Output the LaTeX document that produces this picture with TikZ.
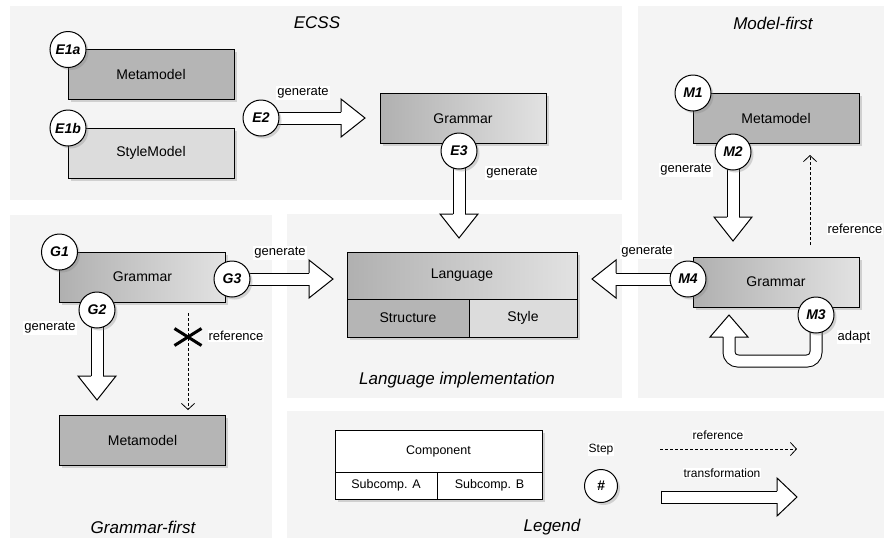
\documentclass[tikz,border=0pt]{standalone}
\usepackage{fontspec}
\setmainfont{Liberation Sans}
\usetikzlibrary{positioning,calc,shadows,arrows.meta,shapes.misc}

\definecolor{panelgray}{HTML}{F4F4F4}
\definecolor{metafill}{HTML}{B5B5B5}
\definecolor{stylefill}{HTML}{DCDCDC}
\definecolor{gradleft}{HTML}{B0B0B0}
\definecolor{gradright}{HTML}{E2E2E2}

\pgfdeclarelayer{bg}
\pgfdeclarelayer{mid}
\pgfsetlayers{bg,mid,main}

\tikzset{
  panel/.style={fill=panelgray},
  title/.style={font=\fontsize{17}{20}\selectfont\itshape},
  boxshadow/.style={drop shadow={shadow xshift=2.5pt,shadow yshift=-2.5pt,opacity=.3}},
  comp/.style={draw, line width=1pt, outer sep=0pt, inner sep=0pt,
    minimum width=166pt, minimum height=50pt, font=\fontsize{14}{16}\selectfont, boxshadow},
  gram/.style={left color=gradleft, right color=gradright},
  legbox/.style={comp, fill=white, font=\fontsize{12.5}{15}\selectfont},
  stepnode/.style={circle, draw, fill=white, line width=1pt, minimum size=36pt, inner sep=0pt,
    font=\fontsize{14}{16}\selectfont\bfseries\itshape, boxshadow},
  lbl/.style={fill=white, inner sep=1pt, font=\fontsize{13}{15}\selectfont},
  leglbl/.style={fill=white, inner sep=1pt, font=\fontsize{12}{14}\selectfont},
  shaft/.style={line width=1pt, double=white, double distance=11pt},
  refline/.style={line width=.8pt, dash pattern=on 3pt off 2pt,
    -{Straight Barb[length=6pt,width=13pt]}},
}

% hollow head, base centre #1, tip #2
\newcommand\bighead[2]{%
  \filldraw[fill=white, line width=1pt]
    ($(#1)!6pt!90:(#2)$) -- ($(#1)!19pt!90:(#2)$) -- (#2.center)
    -- ($(#1)!19pt!-90:(#2)$) -- ($(#1)!6pt!-90:(#2)$);}
% transformation arrow from #2 to #3
\newcommand\trafo[3][24pt]{%
  \coordinate (hb) at ($(#3)!#1!(#2)$);
  \draw[shaft] (#2.center) -- (hb);
  \bighead{hb}{#3}}

\begin{document}
\begin{tikzpicture}[x=1pt, y=-1pt]
  \useasboundingbox (0,0) rectangle (889,542);

  \begin{pgfonlayer}{bg}
    \fill[panel] (10,6) rectangle (622,200);
    \fill[panel] (638,6) rectangle (884,398);
    \fill[panel] (10,215) rectangle (272,538);
    \fill[panel] (287,214) rectangle (622,398);
    \fill[panel] (287,411) rectangle (884,538);
  \end{pgfonlayer}

  \node[title] (ecss) at (317,23) {ECSS};
  \node[title] (modelfirst) at (773,23) {Model-first};
  \node[title] (grammarfirst) at (143,527) {Grammar-first};
  \node[title] (langimpl) at (457,380) {Language implementation};
  \node[title] (legend) at (552,527) {Legend};

  % ECSS
  \node[comp, fill=metafill] (ecssMeta) at (151,74.5) {Metamodel};
  \node[comp, fill=stylefill] (ecssStyle) at (151,153) {StyleModel};
  \node[comp, gram] (ecssGram) at (463,118.5) {Grammar};

  % language implementation
  \node[comp, gram, minimum width=230pt, minimum height=47pt] (lang) at (462,275.5) {Language};
  \node[comp, fill=metafill, minimum width=122pt, minimum height=38pt, anchor=north west]
    (structure) at (lang.south west) {Structure};
  \node[comp, fill=stylefill, minimum width=108pt, minimum height=38pt, anchor=north east]
    (style) at (lang.south east) {Style};

  % grammar-first
  \node[comp, gram] (gfGram) at (142.5,277) {Grammar};
  \node[comp, fill=metafill] (gfMeta) at (142.5,440) {Metamodel};

  % model-first
  \node[comp, fill=metafill] (mfMeta) at (776,118) {Metamodel};
  \node[comp, gram] (mfGram) at (776,282) {Grammar};

  % legend
  \node[legbox, minimum width=207pt, minimum height=42pt] (component) at (438.5,451) {Component};
  \node[legbox, minimum width=102pt, minimum height=27pt, anchor=north west]
    (subA) at (component.south west) {Subcomp. A};
  \node[legbox, minimum width=105pt, minimum height=27pt, anchor=north east]
    (subB) at (component.south east) {Subcomp. B};

  % steps
  \node[stepnode] (E1a) at (ecssMeta.north west) {E1a};
  \node[stepnode] (E1b) at (ecssStyle.north west) {E1b};
  \node[stepnode] (E2) at (261,118) {E2};
  \node[stepnode] (E3) at (459,151) {E3};
  \node[stepnode] (G1) at (gfGram.north west) {G1};
  \node[stepnode] (G2) at (97,310) {G2};
  \node[stepnode] (G3) at (232,279) {G3};
  \node[stepnode] (M1) at (mfMeta.north west) {M1};
  \node[stepnode] (M2) at (733,152) {M2};
  \node[stepnode] (M3) at (816,315) {M3};
  \node[stepnode] (M4) at (688,279) {M4};
  \node[stepnode, minimum size=33pt] (hash) at (601,486) {\#};

  \coordinate (e2tip) at (365,118);
  \coordinate (e3tip) at (459,238);
  \coordinate (g2tip) at (97,400);
  \coordinate (g3tip) at (333,279);
  \coordinate (m2tip) at (733,241);
  \coordinate (m4tip) at (592,279);
  \coordinate (m3hb) at (729,337);
  \coordinate (m3tip) at (729,315);
  \coordinate (ltrafoa) at (661,497);
  \coordinate (ltrafob) at (797,497);
  \coordinate (lrefa) at (660,449);
  \coordinate (lrefb) at (797,449);

  \begin{pgfonlayer}{mid}
    \trafo{E2}{e2tip}
    \trafo{E3}{e3tip}
    \trafo{G2}{g2tip}
    \trafo{G3}{g3tip}
    \trafo{M2}{m2tip}
    \trafo{M4}{m4tip}
    \draw[shaft, rounded corners=9pt] (M3.center) |- ($(m3hb)+(0,24)$) -- (m3hb);
    \bighead{m3hb}{m3tip}
    \trafo[20pt]{ltrafoa}{ltrafob}
    \draw[line width=1pt] ($(ltrafoa)!6.5pt!90:(ltrafob)$) -- ($(ltrafoa)!6.5pt!-90:(ltrafob)$);
  \end{pgfonlayer}

  % references
  \coordinate (gref) at (188,313);
  \draw[refline] (gref) -- (gref |- gfMeta.north) [shorten >=5pt];
  \node[draw, cross out, line width=3pt, minimum width=24pt, minimum height=14pt, inner sep=0pt]
    (gcross) at (188,337) {};
  \coordinate (mref) at (810,245);
  \draw[refline, shorten >=12pt] (mref) -- (mref |- mfMeta.south);
  \draw[refline] (lrefa) -- (lrefb);

  % labels
  \node[lbl] (e2lbl) at (303,93) {generate};
  \node[lbl] (e3lbl) at (512,173) {generate};
  \node[lbl] (g3lbl) at (280,253) {generate};
  \node[lbl] (g2lbl) at (50,328) {generate};
  \node[lbl] (greflbl) at (236,336) {reference};
  \node[lbl] (m4lbl) at (647,252) {generate};
  \node[lbl] (m2lbl) at (686,170) {generate};
  \node[lbl] (mreflbl) at (855,229) {reference};
  \node[lbl] (m3lbl) at (854,337) {adapt};
  \node[leglbl, above=13pt of hash] (steplbl) {Step};
  \node[leglbl] (lreflbl) at (718,435) {reference};
  \node[leglbl] (ltrafolbl) at (722,473) {transformation};
\end{tikzpicture}
\end{document}
